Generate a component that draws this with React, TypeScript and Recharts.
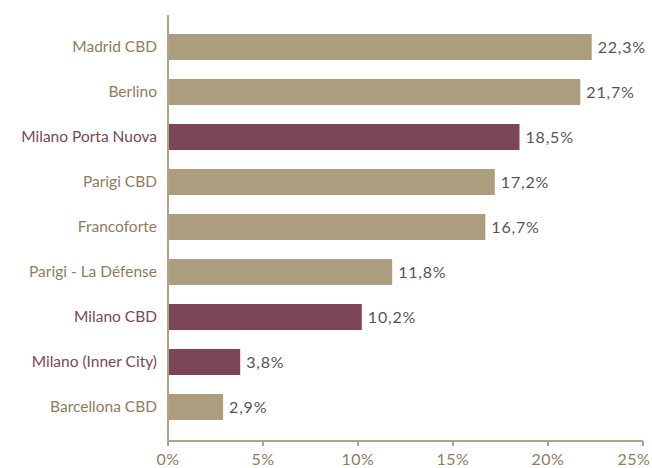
import React from "react";
import { BarChart, Bar, XAxis, YAxis, Cell, LabelList } from "recharts";

const categories = [
  "Madrid CBD",
  "Berlino",
  "Milano Porta Nuova",
  "Parigi CBD",
  "Francoforte",
  "Parigi - La Défense",
  "Milano CBD",
  "Milano (Inner City)",
  "Barcellona CBD",
];
const values = [22.3, 21.7, 18.5, 17.2, 16.7, 11.8, 10.2, 3.8, 2.9];
const highlighted = [false, false, true, false, false, false, true, true, false];
const xTicks = [0, 5, 10, 15, 20, 25];

const TAN = "#ad9d7f";
const MAROON = "#7d4656";
const AXIS = "#b3a385";
const TAN_TEXT = "#8e7d5c";
const FONT = "Lato, 'Noto Sans', sans-serif";

const data = categories.map((name, i) => ({ name, value: values[i], hl: highlighted[i] }));

const YTick = (props: any) => {
  const { x, y, payload } = props;
  const idx = categories.indexOf(payload.value);
  const color = highlighted[idx] ? MAROON : TAN_TEXT;
  return (
    <text x={x} y={y} dy="0.355em" textAnchor="end" fill={color} fontSize={15.5} fontFamily={FONT}>
      {payload.value}
    </text>
  );
};

const XTick = (props: any) => {
  const { x, y, payload } = props;
  const last = payload.value === xTicks[xTicks.length - 1];
  return (
    <text
      x={x}
      y={y}
      dx={last ? -9 : 0}
      dy="0.71em"
      textAnchor="middle"
      fill={TAN_TEXT}
      fontSize={16}
      letterSpacing={0.5}
      fontFamily={FONT}
    >
      {`${payload.value}%`}
    </text>
  );
};

const fmt = (v: any) => `${String(v).replace(".", ",")}%`;

export default function App() {
  return (
    <div style={{ position: "absolute", left: 8, top: 8, width: 644, height: 460 }}>
      <BarChart
        width={644}
        height={460}
        data={data}
        layout="vertical"
        margin={{ top: 7, right: 9, bottom: 0, left: 0 }}
      >
        <XAxis
          type="number"
          domain={[0, 25]}
          ticks={xTicks}
          height={27}
          axisLine={{ stroke: AXIS, strokeWidth: 2 }}
          tickLine={{ stroke: AXIS, strokeWidth: 2 }}
          tickSize={5}
          tickMargin={8}
          tick={<XTick />}
          interval={0}
        />
        <YAxis
          type="category"
          dataKey="name"
          width={160}
          padding={{ top: 9, bottom: 12 }}
          axisLine={{ stroke: AXIS, strokeWidth: 2 }}
          tickLine={false}
          tickSize={0}
          tickMargin={11}
          tick={<YTick />}
          interval={0}
        />
        <Bar dataKey="value" barSize={26} isAnimationActive={false}>
          {data.map((d, i) => (
            <Cell key={i} fill={d.hl ? MAROON : TAN} />
          ))}
          <LabelList
            dataKey="value"
            position="right"
            offset={6}
            formatter={fmt}
            fill="#555555"
            fontSize={16}
            letterSpacing={0.8}
            fontFamily={FONT}
          />
        </Bar>
      </BarChart>
    </div>
  );
}
